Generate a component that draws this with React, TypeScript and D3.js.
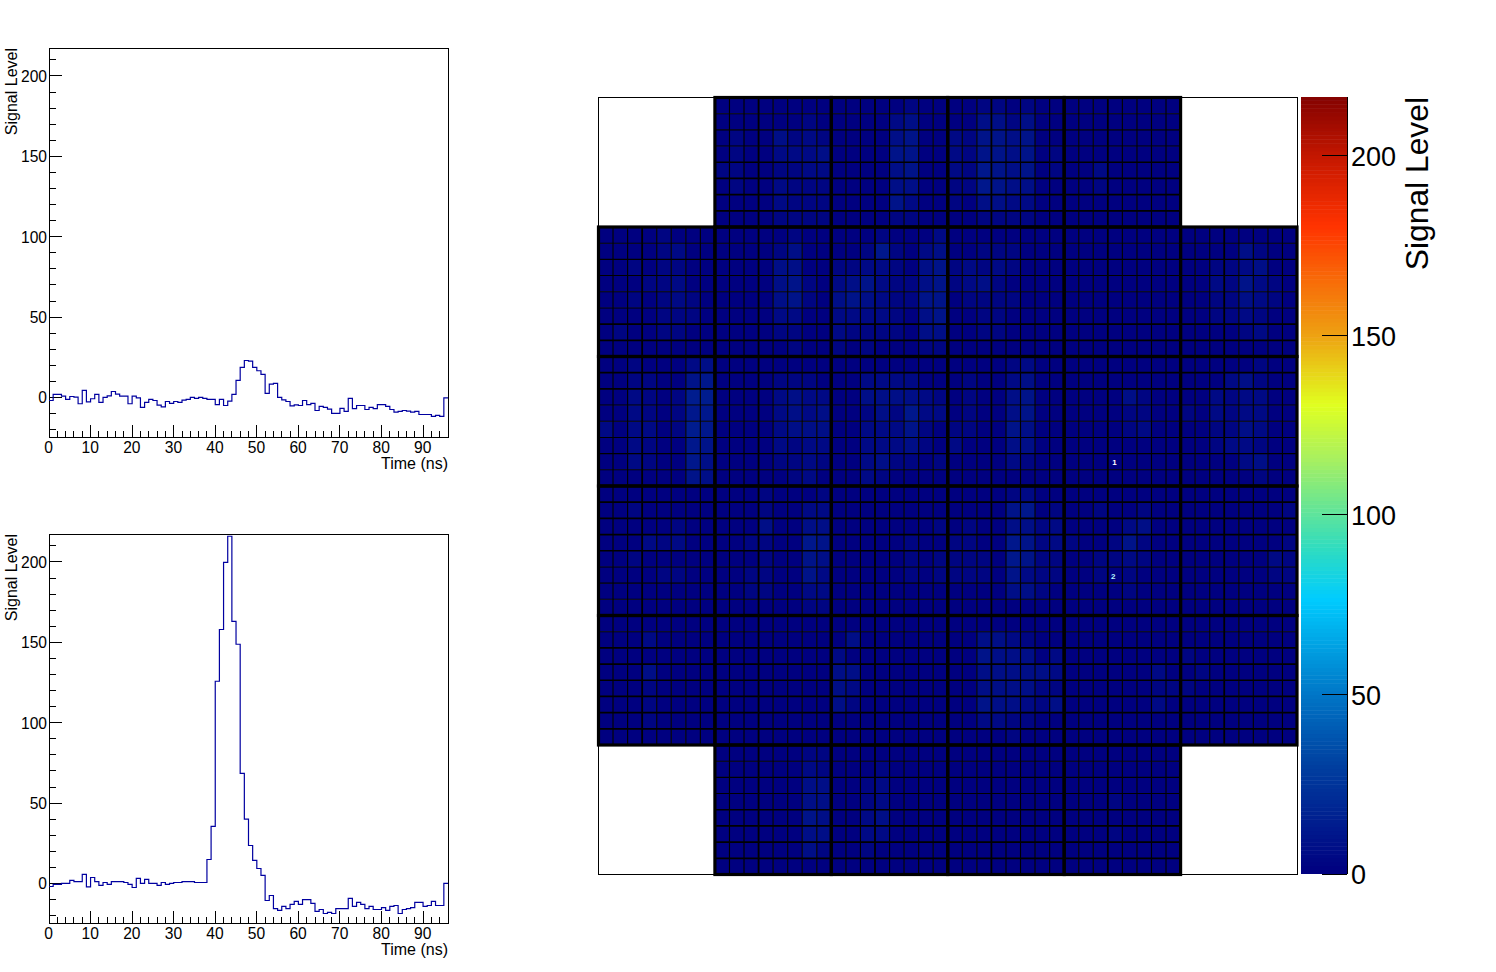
import * as d3 from "d3";
import React from "react";

const upperWave = [-1.9,1.9,1.9,0.8,-1.2,0.6,0.2,-3.9,4.4,-2.7,-0.8,1.9,-3.1,0,1,3.7,2.1,0.8,0.8,-3.9,0.8,-0.2,-6.2,-3.1,-1.2,-1.9,-4.8,-5.8,-2.5,-3.7,-2.5,-3.1,-1.7,-1.2,0,-0.6,0,-0.6,-1.2,-1.2,-4.4,-1.2,-5,-2.3,1.9,10.6,18.7,23,22.6,18.7,16.6,14.3,2.5,8.3,8.7,0,-1.5,-2.5,-5.2,-4.6,-5,-1.9,-4.4,-3.7,-8.1,-5.6,-6.2,-7.3,-9.9,-9.9,-6.8,-8.7,-0.6,-7,-5,-5,-7.5,-6.2,-7,-4.4,-4.4,-5.6,-7.5,-9.1,-8.7,-8.1,-8.5,-9.1,-8.7,-10.6,-10.6,-10.6,-11.8,-11.2,-11.8,-0.2];
const lowerWave = [-1.9,-0.6,-0.6,0,0,1.9,1.2,1.2,5.6,-2.1,3.7,1.2,-1.2,0.6,-0.6,1.2,1.2,1.2,0.6,-0.6,-2.5,3.1,0,2.5,0,0,-1.2,0.6,-0.6,0,0.6,0.6,1.2,1.2,1.2,0.6,0.6,0.6,14.9,35.5,125.8,158,199.8,216,163,148.8,68.5,40,23.6,14.3,9.3,5,-10.6,-7.5,-15.6,-16.8,-14.3,-15.6,-13,-11.2,-13,-10,-10,-12.4,-17.4,-16.2,-18.7,-18,-18.7,-15.6,-15.6,-15.6,-9.3,-14.3,-11.8,-13,-15.6,-14.3,-16.2,-16.2,-15,-16.8,-14.3,-13.7,-18.7,-16.2,-15.6,-15,-11.8,-11.8,-14.3,-13.7,-11.2,-13.7,-13.7,0];

// One string per detector row, one character per channel; "." = no channel.
const heatRows = [
  "........00000000000001000011010000000000........",
  "........00000010000023000033130000000000........",
  "........01003121000034002144340000000000........",
  "........01002223000044002144340100000000........",
  "........11001122000034002154340100200000........",
  "........01002111000033001154330000100000........",
  "........00002111000042001033220000000000........",
  "........00001111000011000011110000000000........",
  "000010000000010000010002000000000000000000000000",
  "000012000000130000151023001110000000000000003100",
  "001011000000330011221034121210000000000000112300",
  "000112000000341023421134123100000000000000214210",
  "001012100000341034321144011110000000000000113210",
  "000011100000220022221034001100000000000000112100",
  "010011000000110021111033001100000000000000001200",
  "000000000000010010100011000000000000000000000000",
  "001000230000000000000000000012000000000000000100",
  "001100450000111000222200010023000000000000023100",
  "002101660000232200333321010034000000310000212200",
  "002101550000232300131522010034000000110010212200",
  "202201650000233300222410110043000000120000113200",
  "002100540000212200222310200033000000000000122100",
  "002100530000112100231101000021000000000000002300",
  "000000430000012000210000000000000000000000000100",
  "000000000001000100000000000012000000000000000000",
  "001000000001002200000000000045010010010000000001",
  "000001000003003300000001010033120000230000000000",
  "000212000011005400000100110054121001410000000001",
  "001000000001004300000101111054110011210000000021",
  "000011000011004200000101111042110010100000000011",
  "000000000011002200000000000033100000100000000000",
  "000000000000001100000000000000000000000000000000",
  "000000000000000000000000000000000000000000000000",
  "000200000000000003000000003321000000000000000000",
  "000000000000000020000000004333020000000010000000",
  "000300000000000033000000003333320000002001000000",
  "000100000000000032000000003333110000001110000000",
  "000100000000000031000000004332130000002000000000",
  "000100000000000000000000002211000000000000000000",
  "000000000000000000000000000010000000000000000000",
  "........00000011000000000000000000000000........",
  "........00000021000100000000000000000000........",
  "........00000033001200000000000000000000........",
  "........00000033001200000000000000010000........",
  "........00000043002300000000000000000000........",
  "........00000033002200000000000000010000........",
  "........00000031001000000000000000000000........",
  "........00000000000000000000000000000000........",
];
const heatUnit = 2.2;
const heavyRowLines = [4, 5, 6, 7, 14, 15, 17, 18, 25, 26, 27, 28, 34, 35, 36, 37, 38, 39, 44, 45, 46, 47];
const heavyColLines = [3, 11, 19, 27, 35, 43];

const waveTicks = [0, 50, 100, 150, 200];
const waveMinorTicks = d3.range(-20, 211, 10);
const timeTicks = [0, 10, 20, 30, 40, 50, 60, 70, 80, 90];
const timeMinorTicks = d3.range(0, 96, 2);
const barTicks = [0, 50, 100, 150, 200];
const markers = [
  { label: "1", col: 35.45, row: 22.72, color: "#ffffff" },
  { label: "2", col: 35.37, row: 29.76, color: "#b4f4ff" },
];

const colorStops: [number, string][] = [
  [0, "#000080"], [30, "#0040a0"], [50, "#0078c8"], [76, "#00ccff"], [90, "#2fdcc0"], [100, "#60e49a"],
  [115, "#a8f060"], [130, "#e0ff20"], [140, "#e8d018"], [150, "#ee9f12"], [165, "#f86a08"], [180, "#ff3300"],
  [197, "#cc1a00"], [217, "#7f0000"],
];
const color = d3.scaleLinear<string>().domain(colorStops.map((d) => d[0])).range(colorStops.map((d) => d[1])).clamp(true);

const FONT = "'Liberation Sans', Arial, sans-serif";

function Wave({ top, values }: { top: number; values: number[] }) {
  const left = 49, right = 448, bottom = top + 389;
  const x = d3.scaleLinear().domain([0, 96]).range([left, right]);
  const y = d3.scaleLinear().domain([-24.6, 217.4]).range([bottom, top]);
  const d = d3.line<number>().x((_, i) => x(i)).y((v) => y(v)).curve(d3.curveStepAfter)([...values, values[values.length - 1]]) as string;
  return (
    <g fontFamily={FONT} fontSize={15.6} fill="#000">
      <rect x={left} y={top} width={right - left} height={bottom - top} fill="#fff" stroke="#000" strokeWidth={1} shapeRendering="crispEdges" />
      {waveMinorTicks.map((t) => (
        <line key={t} x1={left} x2={left + 6.5} y1={y(t)} y2={y(t)} stroke="#000" shapeRendering="crispEdges" />
      ))}
      {waveTicks.map((t) => (
        <g key={t}>
          <line x1={left} x2={left + 12.5} y1={y(t)} y2={y(t)} stroke="#000" shapeRendering="crispEdges" />
          <text x={left - 2} y={y(t) + 6} textAnchor="end">{t}</text>
        </g>
      ))}
      {timeMinorTicks.map((t) => (
        <line key={t} x1={x(t)} x2={x(t)} y1={bottom} y2={bottom - 6.5} stroke="#000" shapeRendering="crispEdges" />
      ))}
      {timeTicks.map((t) => (
        <g key={t}>
          <line x1={x(t)} x2={x(t)} y1={bottom} y2={bottom - 12.5} stroke="#000" shapeRendering="crispEdges" />
          <text x={x(t) - 0.3} y={bottom + 15.5} textAnchor="middle">{t}</text>
        </g>
      ))}
      <text x={right} y={bottom + 32} textAnchor="end" fontSize={16}>Time (ns)</text>
      <text transform={`translate(17,${top}) rotate(-90)`} textAnchor="end" fontSize={16}>Signal Level</text>
      <path d={d} fill="none" stroke="#0000a0" strokeWidth={1.2} />
    </g>
  );
}

function Heat() {
  const x = d3.scaleLinear().domain([0, 48]).range([598.5, 1297]);
  const y = d3.scaleLinear().domain([0, 48]).range([97.5, 874.5]);
  const cells: React.ReactElement[] = [];
  heatRows.forEach((row, r) => {
    row.split("").forEach((ch, c) => {
      if (ch === ".") return;
      cells.push(
        <rect key={`${r}-${c}`} x={x(c)} y={y(r)} width={x(c + 1) - x(c)} height={y(r + 1) - y(r)}
          fill={color(+ch * heatUnit)} />
      );
    });
  });
  const inner = d3.range(1, 48);
  const modules: React.ReactElement[] = [];
  d3.range(0, 48, 8).forEach((mr) => {
    d3.range(0, 48, 8).forEach((mc) => {
      if (heatRows[mr][mc] === ".") return;
      modules.push(
        <rect key={`${mr}-${mc}`} x={x(mc)} y={y(mr)} width={x(mc + 8) - x(mc)} height={y(mr + 8) - y(mr)}
          fill="none" stroke="#000" strokeWidth={3.2} />
      );
    });
  });
  return (
    <g>
      <rect x={x(0)} y={y(0)} width={x(48) - x(0)} height={y(48) - y(0)} fill="#fff" stroke="#000" strokeWidth={1} shapeRendering="crispEdges" />
      {cells}
      {inner.map((i) => {
        const w = heavyColLines.includes(i) ? 1.8 : 1.15;
        const edge = i < 8 || i > 40;
        return <line key={`v${i}`} x1={x(i)} x2={x(i)} y1={y(edge ? 8 : 0)} y2={y(edge ? 40 : 48)} stroke="#000" strokeWidth={w} />;
      })}
      {inner.map((i) => {
        const w = heavyRowLines.includes(i) ? 1.7 : 1.1;
        const edge = i < 8 || i > 40;
        return <line key={`h${i}`} x1={x(edge ? 8 : 0)} x2={x(edge ? 40 : 48)} y1={y(i)} y2={y(i)} stroke="#000" strokeWidth={w} />;
      })}
      {modules}
      {markers.map((m) => (
        <text key={m.label} x={x(m.col)} y={y(m.row)} fill={m.color} fontFamily={FONT} fontWeight="bold" fontSize={8} textAnchor="middle">{m.label}</text>
      ))}
    </g>
  );
}

function ColorBar() {
  const left = 1301, right = 1347;
  const y = d3.scaleLinear().domain([0, 216.4]).range([874, 97]);
  const step = 216.4 / 200;
  const bands = d3.range(0, 216.4, step);
  return (
    <g fontFamily={FONT} fill="#000">
      {bands.map((b, i) => (
        <rect key={i} x={left} width={right - left} y={Math.max(97, y(b + step) - 0.5)} height={y(b) - Math.max(97, y(b + step) - 0.5)} fill={color(b)} />
      ))}
      <line x1={right} x2={right} y1={97} y2={874} stroke="#000" shapeRendering="crispEdges" />
      {barTicks.map((t) => (
        <g key={t}>
          <line x1={right - 25} x2={right} y1={y(t)} y2={y(t)} stroke="#000" shapeRendering="crispEdges" />
          <text x={right + 4} y={y(t) + (t === 0 ? 9.5 : 10.5)} fontSize={27}>{t}</text>
        </g>
      ))}
      <text transform="translate(1428,97) rotate(-90)" textAnchor="end" fontSize={31.8}>Signal Level</text>
    </g>
  );
}

export default function App() {
  return (
    <svg width={1496} height={972} style={{ position: "absolute", left: 0, top: 0, background: "#fff" }}>
      <Wave top={48} values={upperWave} />
      <Wave top={534} values={lowerWave} />
      <Heat />
      <ColorBar />
    </svg>
  );
}
